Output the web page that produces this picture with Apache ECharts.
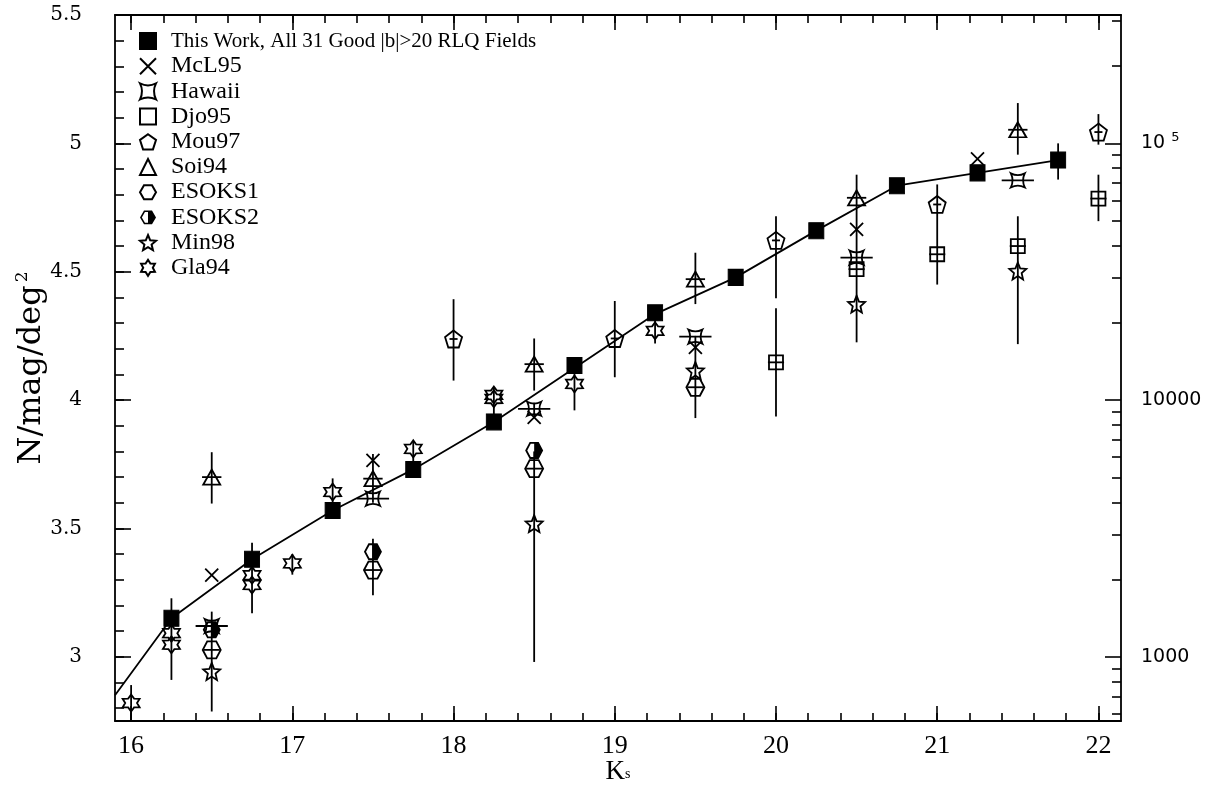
<!DOCTYPE html>
<html>
<head>
<meta charset="utf-8">
<script src="https://cdn.jsdelivr.net/npm/echarts@6/dist/echarts.min.js"></script>
<style>
  html, body { margin: 0; padding: 0; background: #fff; }
  #chart { width: 1222px; height: 791px; }
</style>
</head>
<body>
<div id="chart"></div>
<script>
  // ---- data ----
  var thisWorkK = [16.25, 16.75, 17.25, 17.75, 18.25, 18.75, 19.25, 19.75, 20.25, 20.75, 21.25, 21.75];
  var thisWorkN = [3.15, 3.38, 3.57, 3.73, 3.915, 4.135, 4.34, 4.478, 4.66, 4.835, 4.885, 4.935];

  var fitK = [15.9, 16.25, 16.75, 17.25, 17.75, 18.25, 18.75, 19.25, 19.75, 20.25, 20.75, 21.25, 21.75];
  var fitN = [2.85, 3.15, 3.38, 3.57, 3.73, 3.915, 4.125, 4.335, 4.478, 4.66, 4.835, 4.885, 4.935];

  var mclK = [16.5, 17.5, 18.5, 19.5, 20.5, 21.25];
  var mclN = [3.318, 3.765, 3.933, 4.205, 4.665, 4.94];

  var hawaiiK = [16.5, 17.5, 18.5, 19.5, 20.5, 21.5];
  var hawaiiN = [3.12, 3.616, 3.966, 4.247, 4.555, 4.856];
  var hawaiiXerr = [0.1, 0.1, 0.1, 0.1, 0.1, 0.1];

  var djoK = [20, 20.5, 21, 21.5, 22];
  var djoN = [4.147, 4.51, 4.568, 4.60, 4.785];
  var djoXerr = [0.05, 0.05, 0.05, 0.05, 0.05];

  var mouK = [18, 19, 20, 21, 22];
  var mouN = [4.238, 4.24, 4.622, 4.762, 5.044];
  var mouXerr = [0.025, 0.025, 0.025, 0.025, 0.025];

  var soiK = [16.5, 17.5, 18.5, 19.5, 20.5, 21.5];
  var soiN = [3.70, 3.694, 4.14, 4.471, 4.788, 5.053];
  var soiXerr = [0.06, 0.06, 0.06, 0.06, 0.06, 0.06];

  var eso1K = [16.5, 17.5, 18.5, 19.5];
  var eso1N = [3.027, 3.338, 3.733, 4.05];
  var eso1Xerr = [0.05, 0.05, 0.05, 0.05];

  var eso2K = [16.5, 17.5, 18.5];
  var eso2N = [3.105, 3.409, 3.804];

  var minK = [16.5, 18.5, 19.5, 20.5, 21.5];
  var minN = [2.943, 3.519, 4.115, 4.374, 4.503];

  var glaK = [16.0, 16.25, 16.25, 16.75, 16.75, 17.0, 17.25, 17.75, 18.25, 18.25, 18.75, 19.25];
  var glaN = [2.82, 3.092, 3.047, 3.318, 3.28, 3.364, 3.642, 3.81, 4.005, 4.02, 4.063, 4.27];

  // vertical error bars: K, low, high
  var errK  = [16.0, 16.25, 16.5, 16.5, 16.75, 17.0, 17.25, 17.5, 17.5, 17.75, 18.0, 18.25, 18.5, 18.5, 18.5,
               18.75, 19.0, 19.25, 19.5, 19.5, 20.0, 20.0, 20.5, 21.0, 21.5, 21.5, 21.75, 22.0, 22.0];
  var errLo = [2.70, 2.91, 3.597, 2.787, 3.17, 3.32, 3.55, 3.60, 3.24, 3.70, 4.076, 3.89, 4.037, 3.93, 2.98,
               3.96, 4.089, 4.22, 4.374, 3.93, 4.397, 3.936, 4.225, 4.45, 4.956, 4.218, 4.859, 4.995, 4.697];
  var errHi = [2.89, 3.228, 3.797, 3.176, 3.444, 3.40, 3.695, 3.79, 3.46, 3.84, 4.393, 4.05, 4.24, 3.99, 3.80,
               4.16, 4.386, 4.36, 4.574, 4.25, 4.716, 4.358, 4.878, 4.84, 5.157, 4.716, 5.0, 5.114, 4.878];

  // tick labels
  var xMajor = [16, 17, 18, 19, 20, 21, 22];
  var yMajor = [3, 3.5, 4, 4.5, 5, 5.5];
  var rightMajor = [3, 4, 5];   // log10 of 1000, 10000, 1e5

  var X_MIN = 15.9, X_MAX = 22.14, Y_MIN = 2.75, Y_MAX = 5.5;

  var xMinor = [];
  for (var t = 160; t <= 220; t += 2) xMinor.push(t / 10);
  var yMinor = [];
  for (var u = 28; u <= 55; u++) yMinor.push(u / 10);
  var rightMinor = [];
  for (var e = 2; e <= 5; e++) {
    for (var m = 2; m <= 9; m++) {
      var lv = e + Math.log10(m);
      if (lv > Y_MIN && lv < Y_MAX) rightMinor.push(lv);
    }
  }

  // ---- symbol shapes ----
  function polyPath(n, rot) {
    var s = 'path://';
    for (var i = 0; i < n; i++) {
      var a = rot + i * 2 * Math.PI / n;
      s += (i ? 'L' : 'M') + (10 + 10 * Math.cos(a)).toFixed(2) + ' ' + (10 + 10 * Math.sin(a)).toFixed(2);
    }
    return s + 'Z';
  }
  function starPath(n, ratio) {
    var s = 'path://';
    for (var i = 0; i < 2 * n; i++) {
      var a = -Math.PI / 2 + i * Math.PI / n;
      var r = i % 2 ? 10 * ratio : 10;
      s += (i ? 'L' : 'M') + (10 + r * Math.cos(a)).toFixed(2) + ' ' + (10 + r * Math.sin(a)).toFixed(2);
    }
    return s + 'Z';
  }
  var hawaiiSym = 'path://M0 0Q10 5 20 0Q15 10 20 20Q10 15 0 20Q5 10 0 0Z';
  var crossSym = 'path://M0 0L20 20M20 0L0 20';
  // hexagon, right half filled: outer hexagon plus a reversed inner left half (hole)
  var halfHexSym = 'path://M0 10L5 1.3L15 1.3L20 10L15 18.7L5 18.7Z' +
                   'M10 3.3L6.2 3.3L2.3 10L6.2 16.7L10 16.7Z';

  function pts(ks, ns) {
    return ks.map(function (k, i) { return [k, ns[i]]; });
  }

  var hollowStyle = { color: 'rgba(255,255,255,0)', borderColor: '#000', borderWidth: 1.8, opacity: 1 };

  function scatter(name, symbol, size, ks, ns, style) {
    return {
      name: name, type: 'scatter', symbol: symbol, symbolSize: size,
      data: pts(ks, ns), itemStyle: style || hollowStyle, silent: true, z: 4
    };
  }

  // horizontal bars: N, K-left, K-right
  var hBars = [];
  function addH(ks, ns, xe) {
    ks.forEach(function (k, i) { hBars.push([ns[i], k - xe[i], k + xe[i]]); });
  }
  addH(hawaiiK, hawaiiN, hawaiiXerr);
  addH(djoK, djoN, djoXerr);
  addH(mouK, mouN, mouXerr);
  addH(soiK, soiN, soiXerr);
  addH(eso1K, eso1N, eso1Xerr);

  var vBars = errK.map(function (k, i) { return [k, errLo[i], errHi[i]]; });

  var lineStyle = { stroke: '#000', lineWidth: 1.8 };

  var chart = echarts.init(document.getElementById('chart'));

  function xAxis(pos, values, len, showLine, showLabel) {
    return {
      type: 'value', position: pos, min: X_MIN, max: X_MAX,
      axisLine: { show: showLine, lineStyle: { color: '#000', width: 1.8 } },
      axisTick: { show: true, inside: true, length: len, customValues: values, lineStyle: { color: '#000', width: 1.6 } },
      axisLabel: {
        show: showLabel, customValues: values, margin: 12, color: '#000',
        fontFamily: 'Liberation Serif', fontSize: 26
      },
      splitLine: { show: false }
    };
  }
  function yAxis(pos, values, len, showLine) {
    return {
      type: 'value', position: pos, min: Y_MIN, max: Y_MAX,
      axisLine: { show: showLine, onZero: false, lineStyle: { color: '#000', width: 1.8 } },
      axisTick: { show: true, inside: true, length: len, customValues: values, lineStyle: { color: '#000', width: 1.6 } },
      axisLabel: { show: false },
      splitLine: { show: false }
    };
  }

  var xBottom = xAxis('bottom', xMajor, 15, true, true);
  xBottom.name = '{k|K}{s|s}';
  xBottom.nameLocation = 'middle';
  xBottom.nameGap = 37;
  xBottom.nameMoveOverlap = false;
  xBottom.nameTextStyle = {
    color: '#000',
    rich: {
      k: { fontFamily: 'Liberation Serif', fontSize: 27, color: '#000', padding: [0, 0, 5, 0] },
      s: { fontFamily: 'Liberation Serif', fontSize: 14, color: '#000' }
    }
  };

  var yLeft = yAxis('left', yMajor, 16, true);
  yLeft.axisLabel = {
    show: true, customValues: yMajor, margin: 33, color: '#000',
    fontFamily: 'DejaVu Serif', fontSize: 20
  };
  yLeft.name = 'N/mag/deg{s|2}';
  yLeft.nameLocation = 'middle';
  yLeft.nameRotate = 90;
  yLeft.nameGap = 66;
  yLeft.nameMoveOverlap = false;
  yLeft.nameTextStyle = {
    color: '#000', fontFamily: 'DejaVu Serif', fontSize: 32,
    rich: { s: { fontFamily: 'DejaVu Serif', fontSize: 17, color: '#000', padding: [0, 0, 18, 3] } }
  };

  var yRight = yAxis('right', rightMajor, 16, true);
  yRight.axisLabel = {
    show: true, customValues: rightMajor, margin: 20, color: '#000',
    fontFamily: 'DejaVu Sans', fontSize: 19,
    formatter: function (v) {
      if (Math.round(v) === 5) return '10 {s|5}';
      return String(Math.round(Math.pow(10, v)));
    },
    rich: { s: { fontFamily: 'DejaVu Sans', fontSize: 13, color: '#000', padding: [0, 0, 12, 0] } }
  };

  var legendNames = ['This Work, All 31 Good |b|>20 RLQ Fields', 'McL95', 'Hawaii', 'Djo95', 'Mou97',
                     'Soi94', 'ESOKS1', 'ESOKS2', 'Min98', 'Gla94'];

  var option = {
    backgroundColor: '#fff',
    animation: false,
    grid: { left: 115, right: 101, top: 15, bottom: 70, containLabel: false, outerBoundsMode: 'none' },
    legend: {
      orient: 'vertical', left: 134, top: 24,
      itemWidth: 16, itemHeight: 16, itemGap: 1.2,
      selectedMode: false,
      data: legendNames.map(function (n, i) {
        return i === 0 ? { name: n, textStyle: { fontSize: 21 } } : { name: n };
      }),
      textStyle: {
        color: '#000', fontFamily: 'Liberation Serif', fontSize: 24, lineHeight: 24,
        padding: [0, 0, 0, 10]
      }
    },
    xAxis: [
      xBottom,
      xAxis('bottom', xMinor, 8, false, false),
      xAxis('top', xMajor, 15, true, false),
      xAxis('top', xMinor, 8, false, false)
    ],
    yAxis: [
      yLeft,
      yAxis('left', yMinor, 9, false),
      yRight,
      yAxis('right', rightMinor, 9, false)
    ],
    series: [
      {
        type: 'line', data: pts(fitK, fitN), symbol: 'none', silent: true, z: 3,
        lineStyle: { color: '#000', width: 1.8 }
      },
      {
        type: 'custom', silent: true, clip: true, z: 2,
        data: vBars, encode: { x: 0, y: [1, 2] },
        renderItem: function (params, api) {
          var a = api.coord([api.value(0), api.value(1)]);
          var b = api.coord([api.value(0), api.value(2)]);
          return { type: 'line', shape: { x1: a[0], y1: a[1], x2: b[0], y2: b[1] }, style: lineStyle };
        }
      },
      {
        type: 'custom', silent: true, clip: true, z: 2,
        data: hBars, encode: { x: [1, 2], y: 0 },
        renderItem: function (params, api) {
          var a = api.coord([api.value(1), api.value(0)]);
          var b = api.coord([api.value(2), api.value(0)]);
          return { type: 'line', shape: { x1: a[0], y1: a[1], x2: b[0], y2: b[1] }, style: lineStyle };
        }
      },
      scatter(legendNames[0], 'rect', [15, 16], thisWorkK, thisWorkN,
              { color: '#000', borderColor: '#000', borderWidth: 1, opacity: 1 }),
      scatter('McL95', crossSym, 13, mclK, mclN),
      scatter('Hawaii', hawaiiSym, 14, hawaiiK, hawaiiN),
      scatter('Djo95', 'rect', 14, djoK, djoN),
      scatter('Mou97', polyPath(5, -Math.PI / 2), 17, mouK, mouN),
      scatter('Soi94', 'triangle', [17, 15], soiK, soiN),
      scatter('ESOKS1', polyPath(6, 0), [18, 17], eso1K, eso1N),
      scatter('ESOKS2', halfHexSym, [18, 17], eso2K, eso2N,
              { color: '#000', borderWidth: 0, opacity: 1 }),
      scatter('Min98', starPath(5, 0.45), 17, minK, minN),
      scatter('Gla94', starPath(6, 0.6), 17, glaK, glaN)
    ]
  };

  chart.setOption(option);
</script>
</body>
</html>
